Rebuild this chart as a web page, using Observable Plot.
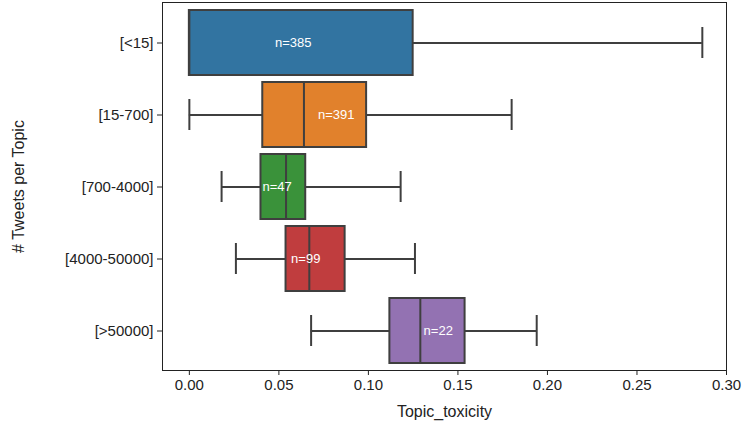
<!DOCTYPE html>
<html><head>
<meta charset="utf-8">
<script src="https://cdn.jsdelivr.net/npm/d3@7"></script>
<script src="https://cdn.jsdelivr.net/npm/@observablehq/plot@0.6"></script>
<style>body{margin:0;background:#fff;font-family:"Liberation Sans",sans-serif}</style>
</head><body><div id="graph"></div>
<script>
const groups = ["[<15]", "[15-700]", "[700-4000]", "[4000-50000]", "[>50000]"];
const mins = [0, 0, 0.018, 0.026, 0.068];
const q1s = [0, 0.041, 0.040, 0.054, 0.112];
const medians = [0, 0.064, 0.054, 0.067, 0.129];
const q3s = [0.125, 0.099, 0.065, 0.087, 0.154];
const maxs = [0.2865, 0.180, 0.118, 0.126, 0.194];
const counts = [385, 391, 47, 99, 22];
const labelX = [0.058, 0.082, 0.049, 0.065, 0.139];
const colors = ["#3274a1", "#e1812c", "#3a923a", "#c03d3e", "#9372b2"];

const data = groups.map((g, i) => ({
  g, min: mins[i], q1: q1s[i], med: medians[i], q3: q3s[i], max: maxs[i],
  n: counts[i], lx: labelX[i], c: colors[i]
}));
const edge = "#3f3f3f";

const plot = Plot.plot({
  width: 746, height: 431,
  marginLeft: 162, marginRight: 20, marginTop: 2, marginBottom: 61,
  style: {fontSize: "15px", fontFamily: "Liberation Sans, sans-serif", color: "#222"},
  x: {domain: [-0.015, 0.30], ticks: d3.range(0, 0.301, 0.05), tickFormat: d3.format(".2f"),
      label: "Topic_toxicity", labelArrow: "none", labelAnchor: "center", labelOffset: 46, tickSize: 5},
  y: {domain: groups, padding: 0.1, label: "# Tweets per Topic", labelAnchor: "center", labelOffset: 150, tickSize: 5},
  marks: [
    Plot.ruleY(data, {y: "g", x1: "min", x2: "q1", stroke: edge, strokeWidth: 2}),
    Plot.ruleY(data, {y: "g", x1: "q3", x2: "max", stroke: edge, strokeWidth: 2}),
    Plot.tickX(data, {y: "g", x: "min", stroke: edge, strokeWidth: 2, insetTop: 17, insetBottom: 17}),
    Plot.tickX(data, {y: "g", x: "max", stroke: edge, strokeWidth: 2, insetTop: 17, insetBottom: 17}),
    Plot.barX(data, {y: "g", x1: "q1", x2: "q3", fill: "c", stroke: edge, strokeWidth: 2}),
    Plot.tickX(data, {y: "g", x: "med", stroke: edge, strokeWidth: 2}),
    Plot.text(data, {y: "g", x: "lx", text: d => "n=" + d.n, fill: "white", fontSize: 13}),
    Plot.frame({stroke: "#222"})
  ]
});
plot.querySelectorAll("[aria-label='y-axis label'] text, [aria-label='x-axis label'] text").forEach(t => t.style.fontSize = "16px");
document.getElementById("graph").append(plot);
</script></body></html>
